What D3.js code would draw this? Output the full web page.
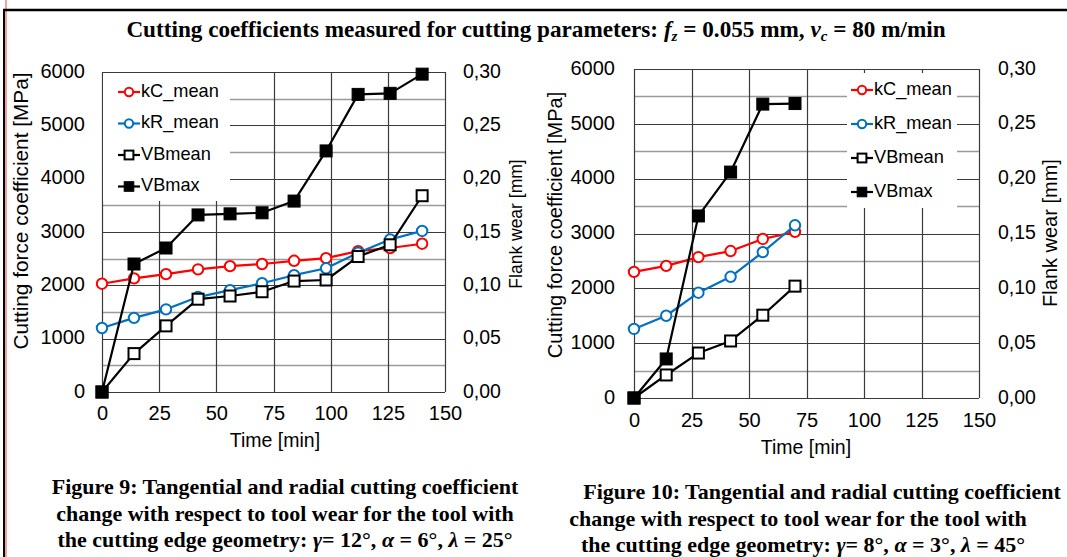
<!DOCTYPE html>
<html><head><meta charset="utf-8">
<script src="https://cdn.jsdelivr.net/npm/d3@7"></script>
<style>
html,body{margin:0;padding:0;background:#fff;}
svg{display:block;}
</style></head>
<body>
<svg id="c" width="1067" height="557"></svg>
<script>
// ---------- DATA ----------
const seriesNames = ["kC_mean", "kR_mean", "VBmean", "VBmax"];
const xTicks = [0, 25, 50, 75, 100, 125, 150];
const yLeftTicks = [0, 1000, 2000, 3000, 4000, 5000, 6000];
const yRightTicks = ["0,00", "0,05", "0,10", "0,15", "0,20", "0,25", "0,30"];
const yRightValues = [0, 0.05, 0.10, 0.15, 0.20, 0.25, 0.30];

// Figure 9 (left)
const timeL = [0, 14, 28, 42, 56, 70, 84, 98, 112, 126, 140];
const kcL = [2030, 2130, 2210, 2300, 2360, 2400, 2460, 2510, 2640, 2700, 2780];
const krL = [1200, 1390, 1550, 1780, 1910, 2040, 2190, 2320, 2610, 2860, 3020];
const vbMeanL = [0, 0.036, 0.062, 0.087, 0.090, 0.094, 0.104, 0.105, 0.127, 0.138, 0.184];
const vbMaxL = [0, 0.120, 0.135, 0.166, 0.167, 0.168, 0.179, 0.226, 0.279, 0.280, 0.298];

// Figure 10 (right)
const timeR = [0, 14, 28, 42, 56, 70];
const kcR = [2300, 2410, 2570, 2680, 2900, 3030];
const krR = [1260, 1500, 1920, 2210, 2660, 3150];
const vbMeanR = [0, 0.021, 0.041, 0.052, 0.0755, 0.102];
const vbMaxR = [0, 0.0356, 0.166, 0.206, 0.268, 0.2685];

const titleParts = ["Cutting coefficients measured for cutting parameters: ", "f", "z", " = 0.055 mm, ", "v", "c", " = 80 m/min"];
const caption9 = ["Figure 9: Tangential and radial cutting coefficient", "change with respect to tool wear for the tool with", "the cutting edge geometry: "];
const caption9Geo = [["γ", "= 12°, "], ["α", " = 6°, "], ["λ", " = 25°"]];
const caption10 = ["Figure 10: Tangential and radial cutting coefficient", "change with respect to tool wear for the tool with", "the cutting edge geometry: "];
const caption10Geo = [["γ", "= 8°, "], ["α", " = 3°, "], ["λ", " = 45°"]];

// ---------- DRAW ----------
const svg = d3.select("#c");
const SANS = "Arial, 'Liberation Sans', Helvetica, sans-serif";
const SERIF = "'Times New Roman', 'Liberation Serif', serif";
const RED = "#ff0000", BLUE = "#0070c0", BLACK = "#000";

// page frame
svg.append("line").attr("x1", 6).attr("x2", 6).attr("y1", 0).attr("y2", 557).attr("stroke", "#f08080").attr("stroke-width", 1.5);
svg.append("line").attr("x1", 4).attr("x2", 4).attr("y1", 9).attr("y2", 557).attr("stroke", "#000").attr("stroke-width", 2);
svg.append("line").attr("x1", 3).attr("x2", 1067).attr("y1", 10).attr("y2", 10).attr("stroke", "#000").attr("stroke-width", 2.5);

// title
const title = svg.append("text").attr("x", 536).attr("y", 37).attr("text-anchor", "middle")
  .attr("font-family", SERIF).attr("font-weight", "bold").attr("font-size", 23.2);
title.append("tspan").text(titleParts[0]);
title.append("tspan").attr("font-style", "italic").text(titleParts[1]);
title.append("tspan").attr("font-style", "italic").attr("font-size", 15).attr("dy", 4).text(titleParts[2]);
title.append("tspan").attr("dy", -4).text(titleParts[3]);
title.append("tspan").attr("font-style", "italic").text(titleParts[4]);
title.append("tspan").attr("font-style", "italic").attr("font-size", 15).attr("dy", 4).text(titleParts[5]);
title.append("tspan").attr("dy", -4).text(titleParts[6]);

function drawChart(cfg) {
  const g = svg.append("g");
  const x = d3.scaleLinear().domain([0, 150]).range([cfg.left, cfg.right]);
  const y = d3.scaleLinear().domain([0, 6000]).range([cfg.bottom, cfg.top]);
  const y2 = d3.scaleLinear().domain([0, 0.30]).range([cfg.bottom, cfg.top]);

  // gridlines
  const hLines = d3.range(0, 6001, 500);
  g.selectAll(".hg").data(hLines).join("line")
    .attr("x1", cfg.left).attr("x2", cfg.right)
    .attr("y1", d => Math.round(y(d)) + 0.5).attr("y2", d => Math.round(y(d)) + 0.5)
    .attr("stroke", d => d % 1000 === 0 ? "#3a3a3a" : "#9a9a9a")
    .attr("stroke-width", d => d % 1000 === 0 ? 1.2 : 1.5);
  g.selectAll(".vg").data(xTicks).join("line")
    .attr("x1", d => Math.round(x(d)) + 0.5).attr("x2", d => Math.round(x(d)) + 0.5)
    .attr("y1", cfg.top).attr("y2", cfg.bottom)
    .attr("stroke", "#3a3a3a").attr("stroke-width", 1.2);

  // legend background
  g.append("rect").attr("x", cfg.legX).attr("y", cfg.legY).attr("width", cfg.legW).attr("height", cfg.legH).attr("fill", "#fff");

  // axes (tick labels only)
  const ax = d3.axisBottom(x).tickValues(xTicks).tickSize(0).tickPadding(0).tickFormat(d3.format("d"));
  const axG = g.append("g").attr("transform", `translate(0,${cfg.bottom})`).call(ax);
  axG.select(".domain").remove();
  axG.selectAll("text").attr("font-family", SANS).attr("font-size", 20).attr("fill", "#000")
    .attr("dy", null).attr("y", cfg.xLabOff).attr("dominant-baseline", "middle");

  const ayL = d3.axisLeft(y).tickValues(yLeftTicks).tickSize(0).tickPadding(0).tickFormat(d3.format("d"));
  const ayG = g.append("g").attr("transform", `translate(${cfg.left},0)`).call(ayL);
  ayG.select(".domain").remove();
  ayG.selectAll("text").attr("font-family", SANS).attr("font-size", 20).attr("fill", "#000")
    .attr("x", -cfg.yLabOff).attr("dy", null).attr("dominant-baseline", "middle");

  const ayR = d3.axisRight(y2).tickValues(yRightValues).tickSize(0).tickPadding(0).tickFormat((d, i) => yRightTicks[i]);
  const ayRG = g.append("g").attr("transform", `translate(${cfg.right},0)`).call(ayR);
  ayRG.select(".domain").remove();
  ayRG.selectAll("text").attr("font-family", SANS).attr("font-size", 19.5).attr("fill", "#000")
    .attr("x", cfg.y2LabOff).attr("dy", null).attr("dominant-baseline", "middle");

  // axis titles
  g.append("text").attr("x", cfg.xTitleX).attr("y", cfg.xTitleY).attr("text-anchor", "middle")
    .attr("dominant-baseline", "middle").attr("font-family", SANS).attr("font-size", 19.5).text("Time [min]");
  g.append("text").attr("transform", `translate(${cfg.yTitleX},${cfg.yTitleY}) rotate(-90)`).attr("text-anchor", "middle")
    .attr("dominant-baseline", "middle").attr("font-family", SANS).attr("font-size", cfg.yTitleSize).text("Cutting force coefficient [MPa]");
  g.append("text").attr("transform", `translate(${cfg.y2TitleX},${cfg.y2TitleY}) rotate(-90)`).attr("text-anchor", "middle")
    .attr("dominant-baseline", "middle").attr("font-family", SANS).attr("font-size", cfg.y2TitleSize).text("Flank wear [mm]");

  // series
  const series = [
    { name: seriesNames[0], xs: cfg.time, ys: cfg.kc, sc: y, color: RED, marker: "circle" },
    { name: seriesNames[1], xs: cfg.time, ys: cfg.kr, sc: y, color: BLUE, marker: "circle" },
    { name: seriesNames[2], xs: cfg.time, ys: cfg.vbMean, sc: y2, color: BLACK, marker: "square" },
    { name: seriesNames[3], xs: cfg.time, ys: cfg.vbMax, sc: y2, color: BLACK, marker: "filled" }
  ];
  series.forEach(s => {
    const pts = s.xs.map((t, i) => [x(t), s.sc(s.ys[i])]);
    g.append("path").attr("d", d3.line()(pts)).attr("fill", "none").attr("stroke", s.color).attr("stroke-width", 2.2)
      .attr("stroke-linejoin", "round");
    pts.forEach(p => drawMarker(g, s.marker, s.color, p[0], p[1], 1));
  });

  // legend entries
  series.forEach((s, i) => {
    const ly = cfg.legY + cfg.legFirst + i * cfg.legStep;
    g.append("line").attr("x1", cfg.legSymX).attr("x2", cfg.legSymX + 22).attr("y1", ly).attr("y2", ly)
      .attr("stroke", s.color).attr("stroke-width", 2.2);
    drawMarker(g, s.marker, s.color, cfg.legSymX + 11, ly, 0.8);
    g.append("text").attr("x", cfg.legSymX + 23).attr("y", ly).attr("dominant-baseline", "middle")
      .attr("font-family", SANS).attr("font-size", 18.2).text(s.name);
  });
}

function drawMarker(g, type, color, cx, cy, k) {
  if (type === "circle") {
    g.append("circle").attr("cx", cx).attr("cy", cy).attr("r", 5.2 * k).attr("fill", "#fff").attr("stroke", color).attr("stroke-width", 2);
  } else if (type === "square") {
    const s = 11 * k;
    g.append("rect").attr("x", cx - s / 2).attr("y", cy - s / 2).attr("width", s).attr("height", s).attr("fill", "#fff").attr("stroke", color).attr("stroke-width", 2);
  } else {
    const s = 12 * k;
    g.append("rect").attr("x", cx - s / 2).attr("y", cy - s / 2).attr("width", s).attr("height", s).attr("fill", color).attr("stroke", color).attr("stroke-width", 1);
  }
}

drawChart({
  left: 102, right: 445, top: 72, bottom: 392,
  time: timeL, kc: kcL, kr: krL, vbMean: vbMeanL, vbMax: vbMaxL,
  xLabOff: 23, yLabOff: 17, y2LabOff: 18,
  xTitleX: 275, xTitleY: 442, yTitleX: 22, yTitleY: 211, y2TitleX: 517, y2TitleY: 224,
  yTitleSize: 20.8, y2TitleSize: 17.5,
  legX: 103, legY: 73, legW: 127, legH: 128, legFirst: 19, legStep: 31.5, legSymX: 118
});
drawChart({
  left: 634, right: 979, top: 69, bottom: 398,
  time: timeR, kc: kcR, kr: krR, vbMean: vbMeanR, vbMax: vbMaxR,
  xLabOff: 24, yLabOff: 19, y2LabOff: 19,
  xTitleX: 806, xTitleY: 449, yTitleX: 557, yTitleY: 225, y2TitleX: 1052, y2TitleY: 233,
  yTitleSize: 20, y2TitleSize: 20,
  legX: 847, legY: 73, legW: 110, legH: 135, legFirst: 17, legStep: 34, legSymX: 851
});

// captions
function caption(lines, geo, y0, step, cxs) {
  lines.forEach((ln, i) => {
    const t = svg.append("text").attr("x", cxs[i]).attr("y", y0 + i * step).attr("text-anchor", "middle")
      .attr("font-family", SERIF).attr("font-weight", "bold").attr("font-size", 22);
    t.append("tspan").text(ln);
    if (i === lines.length - 1) {
      geo.forEach(gp => {
        t.append("tspan").attr("font-style", "italic").text(gp[0]);
        t.append("tspan").text(gp[1]);
      });
    }
  });
}
caption(caption9, caption9Geo, 494, 26.5, [285, 285, 285]);
caption(caption10, caption10Geo, 499, 26.5, [822, 798, 803]);
</script>
</body></html>
